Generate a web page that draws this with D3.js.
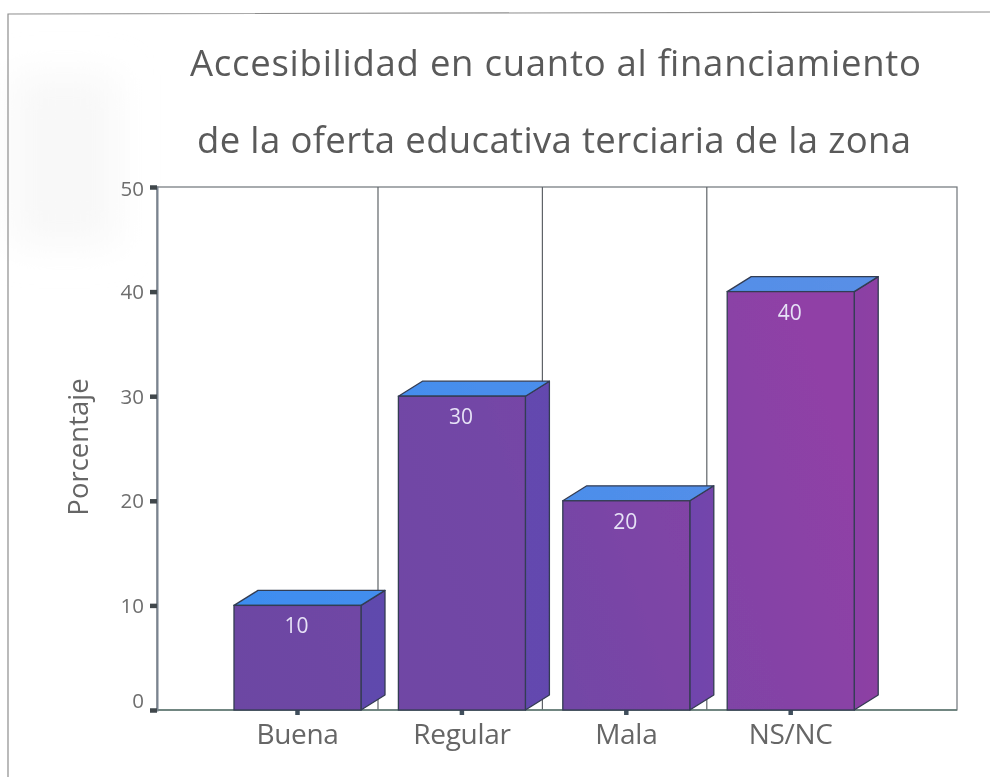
<!DOCTYPE html>
<html><head><meta charset="utf-8">
<script src="https://cdnjs.cloudflare.com/ajax/libs/d3/7.8.5/d3.min.js"></script>
<style>html,body{margin:0;padding:0;background:#fff}svg{display:block}text{font-family:"Open Sans",sans-serif}</style>
</head><body><script>
const categories = ["Buena","Regular","Mala","NS/NC"];
const values = [10,30,20,40];
const yTicks = [0,10,20,30,40,50];
const titleLines = ["Accesibilidad en cuanto al financiamiento","de la oferta educativa terciaria de la zona"];
const yLabel = "Porcentaje";

const W=990,H=777;
const svg=d3.select("body").append("svg").attr("width",W).attr("height",H);
const defs=svg.append("defs");
const frontG=defs.append("linearGradient").attr("id","front").attr("gradientUnits","userSpaceOnUse")
  .attr("x1",234).attr("y1",700).attr("x2",860).attr("y2",500);
[[0,"#6c46a3"],[.5,"#7346a6"],[1,"#9041a6"]].forEach(d=>frontG.append("stop").attr("offset",d[0]).attr("stop-color",d[1]));
const sideG=defs.append("linearGradient").attr("id","side").attr("gradientUnits","userSpaceOnUse")
  .attr("x1",360).attr("y1",0).attr("x2",880).attr("y2",0);
[[0,"#5f49ad"],[.5,"#6547b0"],[1,"#8e3fa3"]].forEach(d=>sideG.append("stop").attr("offset",d[0]).attr("stop-color",d[1]));
const topG=defs.append("linearGradient").attr("id","top").attr("gradientUnits","userSpaceOnUse")
  .attr("x1",234).attr("y1",0).attr("x2",880).attr("y2",0);
[[0,"#3d8df0"],[1,"#5a8fe6"]].forEach(d=>topG.append("stop").attr("offset",d[0]).attr("stop-color",d[1]));
const blur=defs.append("filter").attr("id","soft").attr("filterUnits","userSpaceOnUse").attr("x",0).attr("y",0).attr("width",W).attr("height",H);
blur.append("feGaussianBlur").attr("stdDeviation",0.65);
const wide=defs.append("filter").attr("id","wide").attr("filterUnits","userSpaceOnUse").attr("x",0).attr("y",0).attr("width",W).attr("height",H);
wide.append("feGaussianBlur").attr("stdDeviation",18);

svg.append("rect").attr("x",12).attr("y",75).attr("width",105).attr("height",170).attr("fill","#f8f8f8").attr("filter","url(#wide)");

const root=svg.append("g").attr("filter","url(#soft)");
// scanned page frame
root.append("path").attr("d","M8,777V14L990,12").attr("fill","none").attr("stroke","#8e8e8e").attr("stroke-width",1.2);

const x0=157,x1=957,yBottom=710,yTop=187;
const x=d3.scaleBand().domain(categories).range([215.3,872.9]).paddingInner(0.2275).paddingOuter(0.1137);
const y=d3.scaleLinear().domain([0,50]).range([yBottom,yTop]);
const dx=24,dy=15;

// plot box
root.append("rect").attr("x",x0).attr("y",yTop).attr("width",x1-x0).attr("height",yBottom-yTop)
  .attr("fill","#fff").attr("stroke","#6f7478").attr("stroke-width",1.2);
// separators
categories.slice(0,-1).forEach(c=>{
  const lx=x(c)+x.bandwidth()+17;
  root.append("line").attr("x1",lx).attr("x2",lx).attr("y1",yTop).attr("y2",yBottom).attr("stroke","#5f6468").attr("stroke-width",1.2);
});
root.append("line").attr("x1",x0).attr("x2",x1).attr("y1",yBottom).attr("y2",yBottom).attr("stroke","#5f7a72").attr("stroke-width",1.6);

// y axis
const yAxis=root.append("g").attr("transform",`translate(${x0},0)`)
  .call(d3.axisLeft(y).tickValues(yTicks).tickSize(7).tickPadding(6));
yAxis.select(".domain").attr("stroke","#7a8490").attr("stroke-width",2);
yAxis.selectAll("line").attr("stroke","#3f474c").attr("stroke-width",4.5);
yAxis.selectAll("text").attr("font-size",20.5).attr("fill","#6e6e6e")
  .attr("dy",d=>d===0?"-0.12em":d===50?"0.42em":"0.34em");

// x axis
const xAxis=root.append("g").attr("transform",`translate(0,${yBottom})`)
  .call(d3.axisBottom(x).tickSize(5).tickPadding(8));
xAxis.select(".domain").remove();
xAxis.selectAll("line").attr("stroke","#3f4f5c").attr("stroke-width",4.5);
xAxis.selectAll("text").attr("font-size",28).attr("fill","#666").attr("letter-spacing","-0.3px").attr("dy","0.74em");

// bars
const bars=root.selectAll("g.bar").data(categories.map((c,i)=>({c,v:values[i]}))).enter().append("g").attr("class","bar");
const stroke="#333c52";
bars.append("path").attr("fill","url(#side)").attr("stroke",stroke).attr("stroke-width",1.3).attr("stroke-linejoin","round")
  .attr("d",d=>{const r=x(d.c)+x.bandwidth(),t=y(d.v),b=y(0);return `M${r},${t}L${r+dx},${t-dy}L${r+dx},${b-dy}L${r},${b}Z`;});
bars.append("path").attr("fill","url(#top)").attr("stroke",stroke).attr("stroke-width",1.3).attr("stroke-linejoin","round")
  .attr("d",d=>{const l=x(d.c),r=l+x.bandwidth(),t=y(d.v);return `M${l},${t}L${l+dx},${t-dy}L${r+dx},${t-dy}L${r},${t}Z`;});
bars.append("rect").attr("fill","url(#front)").attr("stroke",stroke).attr("stroke-width",1.3)
  .attr("x",d=>x(d.c)).attr("width",x.bandwidth()).attr("y",d=>y(d.v)).attr("height",d=>y(0)-y(d.v));
bars.append("text").attr("text-anchor","middle").attr("x",d=>x(d.c)+x.bandwidth()/2-1).attr("y",d=>y(d.v)+28)
  .attr("font-size",21).attr("fill","#e6e2f6").text(d=>d.v);

// title
root.selectAll("text.title").data(titleLines).enter().append("text").attr("class","title")
  .attr("x",(d,i)=>i?197:190).attr("y",(d,i)=>i?153:76)
  .attr("textLength",(d,i)=>i?714:731).attr("lengthAdjust","spacing")
  .attr("font-size",36.5).attr("fill","#5a5a5a").text(d=>d);

// y label
root.append("text").attr("transform","translate(88,447) rotate(-90)").attr("text-anchor","middle")
  .attr("font-size",27.5).attr("fill","#666").text(yLabel);
</script></body></html>
